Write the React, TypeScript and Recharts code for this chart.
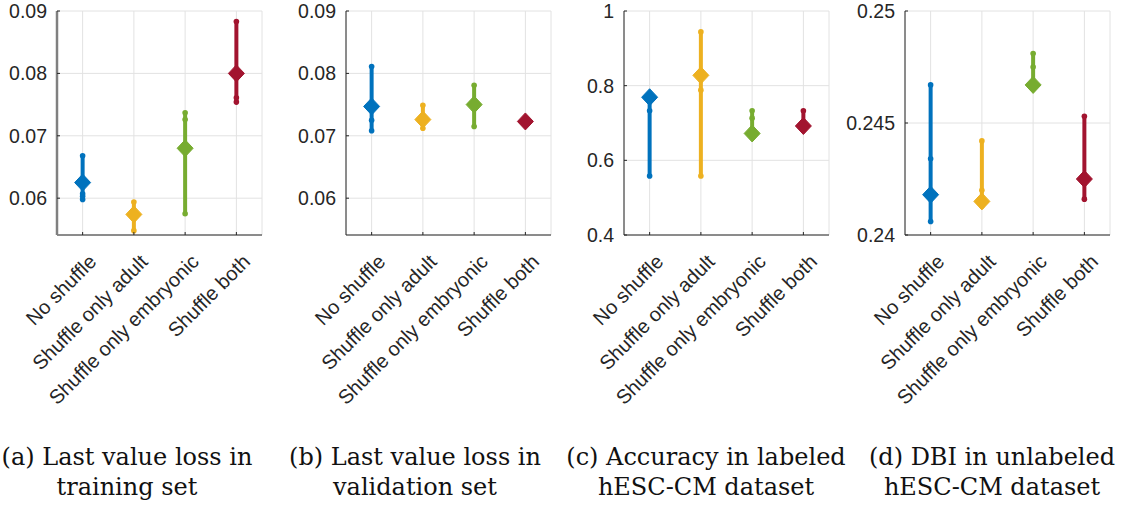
import React from 'react';
import { ScatterChart, Scatter, XAxis, YAxis, CartesianGrid } from 'recharts';

// Experiment groups and their colours
const CATEGORIES = ['No shuffle', 'Shuffle only adult', 'Shuffle only embryonic', 'Shuffle both'];
const COLORS = ['#0072BD', '#EDB120', '#77AC30', '#A2142F'];
const CATEGORY_TICKS = [1, 2, 3, 4];

// (a) Last value loss in training set
const TRAIN_LOSS_CENTER = [0.0625, 0.0574, 0.068, 0.08];
const TRAIN_LOSS_RUNS = [
  [0.0598, 0.0603, 0.0607, 0.0668],
  [0.0548, 0.0594],
  [0.0575, 0.0726, 0.0737],
  [0.0754, 0.0761, 0.0883],
];

// (b) Last value loss in validation set
const VAL_LOSS_CENTER = [0.0747, 0.0726, 0.075, 0.0723];
const VAL_LOSS_RUNS = [
  [0.0708, 0.0725, 0.0811],
  [0.0712, 0.0749],
  [0.0715, 0.0781],
  [0.072, 0.0726],
];

const LOSS_DOMAIN = [0.0541, 0.09];
const LOSS_TICKS = [0.06, 0.07, 0.08, 0.09];

// (c) Accuracy in labeled hESC-CM dataset
const ACC_CENTER = [0.769, 0.8276, 0.672, 0.692];
const ACC_RUNS = [
  [0.558, 0.733, 0.775],
  [0.558, 0.788, 0.944],
  [0.665, 0.713, 0.733],
  [0.685, 0.733],
];
const ACC_DOMAIN = [0.4, 1];
const ACC_TICKS = [0.4, 0.6, 0.8, 1];

// (d) DBI in unlabeled hESC-CM dataset
const DBI_CENTER = [0.2418, 0.2415, 0.2467, 0.2425];
const DBI_RUNS = [
  [0.2406, 0.2434, 0.2467],
  [0.2413, 0.242, 0.2442],
  [0.2467, 0.2475, 0.2481],
  [0.2416, 0.2453],
];
const DBI_DOMAIN = [0.24, 0.25];
const DBI_TICKS = [0.24, 0.245, 0.25];

const CAPTIONS = [
  ['(a) Last value loss in', 'training set'],
  ['(b) Last value loss in', 'validation set'],
  ['(c) Accuracy in labeled', 'hESC-CM dataset'],
  ['(d) DBI in unlabeled', 'hESC-CM dataset'],
];

const TICK_FONT = '"Liberation Sans", Arial, Helvetica, sans-serif';
const TEXT_COLOR = '#262626';
const PLOT_W = 205;
const Y_W = 72;
const CHART_H = 430;
const PLOT_TOP = 11;
const PLOT_BOTTOM = 235;

const YTick = (props: any) => {
  const { x, y, payload } = props;
  const fmt = props.fmt as (v: number) => string;
  return (
    <g>
      <line x1={x} y1={y} x2={x + 3} y2={y} stroke={TEXT_COLOR} strokeWidth={1} />
      <text
        x={x - 10}
        y={y}
        textAnchor="end"
        dominantBaseline="central"
        fontFamily={TICK_FONT}
        fontSize={19.5}
        fill={TEXT_COLOR}
      >
        {fmt(payload.value)}
      </text>
    </g>
  );
};

const XTick = (props: any) => {
  const { x, y, payload } = props;
  const label = CATEGORIES[Math.round(payload.value) - 1];
  const ax = x + 15;
  const ay = y + 28;
  return (
    <g>
      <line x1={x} y1={y} x2={x} y2={y - 3} stroke={TEXT_COLOR} strokeWidth={1} />
      <text
        x={ax}
        y={ay}
        textAnchor="end"
        fontFamily={TICK_FONT}
        fontSize={20}
        fill={TEXT_COLOR}
        transform={`rotate(-45 ${ax} ${ay})`}
      >
        {label}
      </text>
    </g>
  );
};

const RunDot = (props: any) => {
  const { cx, cy, fill } = props;
  if (cx == null || cy == null) return null;
  return <circle cx={cx} cy={cy} r={2.8} fill={fill} />;
};

const Diamond = (props: any) => {
  const { cx, cy, payload } = props;
  if (cx == null || cy == null) return null;
  const c = COLORS[Math.round(payload.x) - 1];
  const w = 8;
  const h = 8.5;
  return (
    <polygon
      points={`${cx},${cy - h} ${cx + w},${cy} ${cx},${cy + h} ${cx - w},${cy}`}
      fill={c}
      stroke={c}
      strokeWidth={1}
    />
  );
};

type PanelProps = {
  plotLeft: number;
  center: number[];
  runs: number[][];
  domain: number[];
  ticks: number[];
  fmt: (v: number) => string;
  axisColor: string;
  axisWidth: number;
};

const Panel = ({ plotLeft, center, runs, domain, ticks, fmt, axisColor, axisWidth }: PanelProps) => {
  const chartW = Y_W + PLOT_W + 10;
  return (
    <div style={{ position: 'absolute', left: plotLeft - Y_W, top: 0 }}>
      <ScatterChart
        width={chartW}
        height={CHART_H}
        margin={{ top: PLOT_TOP, right: 10, bottom: 0, left: 0 }}
      >
        <CartesianGrid stroke="#e2e2e2" strokeWidth={1} />
        <XAxis
          type="number"
          dataKey="x"
          domain={[0.5, 4.5]}
          ticks={CATEGORY_TICKS}
          interval={0}
          height={CHART_H - PLOT_BOTTOM}
          tickSize={0}
          tickMargin={0}
          tickLine={false}
          axisLine={{ stroke: TEXT_COLOR, strokeWidth: 1 }}
          tick={(p: any) => <XTick {...p} />}
          allowDataOverflow
        />
        <YAxis
          type="number"
          dataKey="y"
          domain={domain}
          ticks={ticks}
          interval={0}
          width={Y_W}
          tickSize={0}
          tickMargin={0}
          tickLine={false}
          axisLine={{ stroke: axisColor, strokeWidth: axisWidth }}
          tick={(p: any) => <YTick {...p} fmt={fmt} />}
          allowDataOverflow
        />
        {runs.map((r, i) => (
          <Scatter
            key={CATEGORIES[i]}
            data={r.map((y) => ({ x: i + 1, y }))}
            fill={COLORS[i]}
            line={{ stroke: COLORS[i], strokeWidth: 4 }}
            lineType="joint"
            shape={(p: any) => <RunDot {...p} />}
            isAnimationActive={false}
          />
        ))}
        <Scatter
          data={center.map((y, i) => ({ x: i + 1, y }))}
          shape={(p: any) => <Diamond {...p} />}
          isAnimationActive={false}
        />
      </ScatterChart>
    </div>
  );
};

const fmtLoss = (v: number) => v.toFixed(2);
const fmtAcc = (v: number) => (v === 1 ? '1' : v.toFixed(1));
const fmtDbi = (v: number) => String(Number(v.toFixed(3)));

const CAPTION_CENTERS = [127, 415, 706, 992];

export default function App() {
  return (
    <div
      style={{
        position: 'absolute',
        left: 0,
        top: 0,
        width: 1126,
        height: 507,
        background: '#ffffff',
        overflow: 'hidden',
      }}
    >
      <Panel plotLeft={57} center={TRAIN_LOSS_CENTER} runs={TRAIN_LOSS_RUNS} domain={LOSS_DOMAIN} ticks={LOSS_TICKS} fmt={fmtLoss} axisColor="#808080" axisWidth={2.5} />
      <Panel plotLeft={346} center={VAL_LOSS_CENTER} runs={VAL_LOSS_RUNS} domain={LOSS_DOMAIN} ticks={LOSS_TICKS} fmt={fmtLoss} axisColor={TEXT_COLOR} axisWidth={1} />
      <Panel plotLeft={624} center={ACC_CENTER} runs={ACC_RUNS} domain={ACC_DOMAIN} ticks={ACC_TICKS} fmt={fmtAcc} axisColor={TEXT_COLOR} axisWidth={1} />
      <Panel plotLeft={905} center={DBI_CENTER} runs={DBI_RUNS} domain={DBI_DOMAIN} ticks={DBI_TICKS} fmt={fmtDbi} axisColor={TEXT_COLOR} axisWidth={1} />
      {CAPTIONS.map((lines, i) => (
        <div
          key={lines[0]}
          style={{
            position: 'absolute',
            left: CAPTION_CENTERS[i] - 150,
            top: 442,
            width: 300,
            textAlign: 'center',
            fontFamily: '"DejaVu Serif", serif',
            fontSize: 24,
            lineHeight: '30px',
            color: '#111',
            whiteSpace: 'nowrap',
          }}
        >
          {lines[0]}
          <br />
          {lines[1]}
        </div>
      ))}
    </div>
  );
}
